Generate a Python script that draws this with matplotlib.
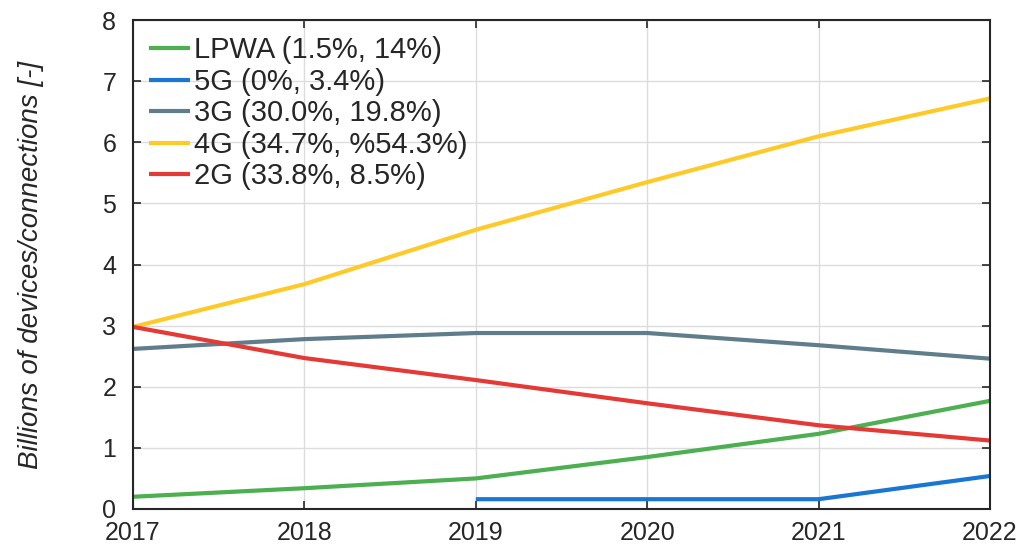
import matplotlib
matplotlib.use('Agg')
import matplotlib.pyplot as plt

years = [2017, 2018, 2019, 2020, 2021, 2022]
lpwa = [0.20, 0.34, 0.50, 0.85, 1.23, 1.77]
fiveg_years = [2019, 2020, 2021, 2022]
fiveg = [0.16, 0.16, 0.16, 0.54]
threeg = [2.62, 2.78, 2.88, 2.88, 2.68, 2.46]
fourg = [2.98, 3.68, 4.57, 5.35, 6.10, 6.72]
twog = [2.98, 2.47, 2.11, 1.73, 1.37, 1.12]

labels = ['LPWA (1.5%, 14%)', '5G (0%, 3.4%)', '3G (30.0%, 19.8%)',
          '4G (34.7%, %54.3%)', '2G (33.8%, 8.5%)']
colors = ['#4CAF50', '#1976D2', '#607D8B', '#FFCA28', '#E53935']

plt.rcParams['font.family'] = ['Liberation Sans', 'DejaVu Sans']

fig = plt.figure(figsize=(10.27, 5.46), dpi=100)
ax = fig.add_axes([0.1295, 0.0678, 0.8345, 0.8952])

series = [(years, lpwa), (fiveg_years, fiveg), (years, threeg), (years, fourg), (years, twog)]
for (x, y), lab, c in zip(series, labels, colors):
    ax.plot(x, y, color=c, lw=3, label=lab, solid_capstyle='butt')

ax.set_xlim(2017, 2022)
ax.set_ylim(0, 8)
ax.set_xticks(years)
ax.set_yticks(range(0, 9))
ax.grid(True, color='#dcdcdc', lw=1)
ax.set_axisbelow(True)
ax.tick_params(direction='in', length=6, width=1.2, colors='#262626',
               labelsize=18, top=True, right=True)
ax.tick_params(axis='y', pad=12)
ax.tick_params(axis='x', pad=9)
for s in ax.spines.values():
    s.set_color('#262626')
    s.set_linewidth(1.5)

ax.set_ylabel('Billions of devices/connections [-]', fontsize=20, style='italic',
              labelpad=42, color='#262626')

leg = ax.legend(loc='upper left', frameon=False, fontsize=21, handlelength=1.4,
                handletextpad=0.15, labelspacing=0.12, borderaxespad=0.15,
                bbox_to_anchor=(0.0, 1.0))
for t in leg.get_texts():
    t.set_color('#262626')

fig.savefig('out.png', dpi=100)
